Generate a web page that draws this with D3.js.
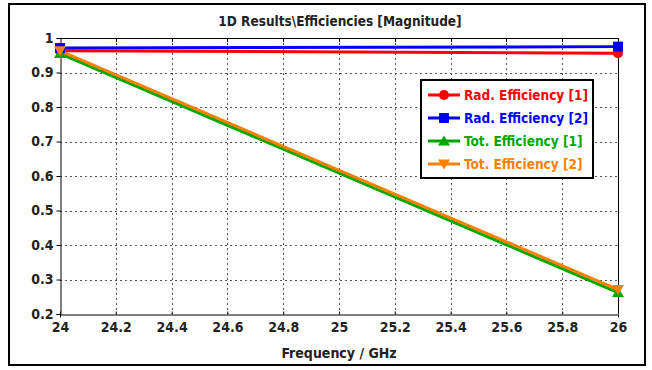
<!DOCTYPE html>
<html>
<head>
<meta charset="utf-8">
<script src="https://cdn.jsdelivr.net/npm/d3@7"></script>
<style>
  html, body { margin: 0; padding: 0; background: #fff; }
  svg { display: block; }
  text { font-family: "DejaVu Sans Condensed", "DejaVu Sans", sans-serif; font-weight: bold; }
</style>
</head>
<body>
<svg id="chart" width="652" height="370"></svg>
<script>
// Frequency samples (GHz)
const freq = [24, 26];
// Efficiency magnitudes per port
const radEff1 = [0.963, 0.956];
const radEff2 = [0.971, 0.975];
const totEff1 = [0.955, 0.262];
const totEff2 = [0.963, 0.271];

const seriesNames = ["Rad. Efficiency [1]", "Rad. Efficiency [2]", "Tot. Efficiency [1]", "Tot. Efficiency [2]"];
const seriesColors = ["#ff0000", "#0000ff", "#00a800", "#ff8000"];
const seriesMarkers = ["circle", "square", "triUp", "triDown"];
const seriesValues = [radEff1, radEff2, totEff1, totEff2];

const xTicks = [24, 24.2, 24.4, 24.6, 24.8, 25, 25.2, 25.4, 25.6, 25.8, 26];
const yTicks = [0.2, 0.3, 0.4, 0.5, 0.6, 0.7, 0.8, 0.9, 1];

const svg = d3.select("#chart");
const plot = { left: 60, right: 618, top: 38, bottom: 314 };

// outer frame
svg.append("rect").attr("x", 9).attr("y", 4).attr("width", 636).attr("height", 361)
  .attr("fill", "#fff").attr("stroke", "#000").attr("stroke-width", 2);

const x = d3.scaleLinear().domain([24, 26]).range([plot.left, plot.right]);
const y = d3.scaleLinear().domain([0.2, 1]).range([plot.bottom, plot.top]);

// grid
const grid = svg.append("g");
grid.selectAll("line.v").data(xTicks.slice(1, -1)).join("line")
  .attr("x1", d => Math.round(x(d)) + 0.5).attr("x2", d => Math.round(x(d)) + 0.5)
  .attr("y1", plot.top).attr("y2", plot.bottom)
  .attr("stroke", "#555").attr("stroke-width", 1).attr("stroke-dasharray", "2,3");
grid.selectAll("line.h").data(yTicks.slice(1, -1)).join("line")
  .attr("y1", d => Math.round(y(d)) + 0.5).attr("y2", d => Math.round(y(d)) + 0.5)
  .attr("x1", plot.left).attr("x2", plot.right)
  .attr("stroke", "#555").attr("stroke-width", 1).attr("stroke-dasharray", "2,3");

// axes
const xAxis = svg.append("g").attr("transform", `translate(0,${plot.bottom + 0.5})`)
  .call(d3.axisBottom(x).tickValues(xTicks).tickSize(3).tickPadding(5).tickFormat(d3.format("~g")));
const yAxis = svg.append("g").attr("transform", `translate(${plot.left + 0.5},0)`)
  .call(d3.axisLeft(y).tickValues(yTicks).tickSize(4).tickPadding(3).tickFormat(d3.format("~g")));
[xAxis, yAxis].forEach(a => {
  a.select(".domain").attr("stroke", "#000");
  a.selectAll(".tick line").attr("stroke", "#000");
  a.selectAll("text").attr("fill", "#222").style("font-size", "14px")
    .style("font-family", "'DejaVu Sans Condensed', sans-serif").style("font-weight", "bold");
});
xAxis.selectAll(".tick line").attr("y2", -3);
// top and right frame of the plot area
svg.append("line").attr("x1", plot.left).attr("x2", plot.right + 0.5)
  .attr("y1", plot.top + 0.5).attr("y2", plot.top + 0.5).attr("stroke", "#000");
svg.append("line").attr("x1", plot.right + 0.5).attr("x2", plot.right + 0.5)
  .attr("y1", plot.top).attr("y2", plot.bottom).attr("stroke", "#000");
svg.append("g").selectAll("line").data(xTicks.slice(1, -1)).join("line")
  .attr("x1", d => Math.round(x(d)) + 0.5).attr("x2", d => Math.round(x(d)) + 0.5)
  .attr("y1", plot.top).attr("y2", plot.top + 4).attr("stroke", "#000");

// marker shapes
function markerPath(kind, s) {
  if (kind === "circle") return d3.symbol(d3.symbolCircle, s * s * 0.8)();
  if (kind === "square") return d3.symbol(d3.symbolSquare, s * s)();
  const h = s * 0.9;
  if (kind === "triUp") return `M0,${-h * 0.6}L${s * 0.6},${h * 0.5}L${-s * 0.6},${h * 0.5}Z`;
  return `M0,${h * 0.6}L${s * 0.6},${-h * 0.5}L${-s * 0.6},${-h * 0.5}Z`;
}

// curves
const line = d3.line().x((d, i) => x(freq[i])).y(d => y(d));
const curves = svg.append("g");
seriesValues.forEach((vals, k) => {
  curves.append("path").datum(vals).attr("d", line)
    .attr("fill", "none").attr("stroke", seriesColors[k]).attr("stroke-width", 3);
});
seriesValues.forEach((vals, k) => {
  curves.selectAll(null).data(vals).join("path")
    .attr("transform", (d, i) => `translate(${x(freq[i])},${y(d)})`)
    .attr("d", markerPath(seriesMarkers[k], 10))
    .attr("fill", seriesColors[k]);
});

// title
svg.append("text").attr("x", 340).attr("y", 26).attr("text-anchor", "middle")
  .style("font-size", "13.5px").attr("fill", "#222").text("1D Results\\Efficiencies [Magnitude]");
// x label
svg.append("text").attr("x", 339).attr("y", 358).attr("text-anchor", "middle")
  .style("font-size", "14px").attr("fill", "#222").text("Frequency / GHz");

// legend
const lg = svg.append("g").attr("transform", "translate(421,80)");
lg.append("rect").attr("x", 0).attr("y", 0).attr("width", 172).attr("height", 98)
  .attr("fill", "#fff").attr("stroke", "#000").attr("stroke-width", 2);
seriesNames.forEach((name, k) => {
  const yy = 15 + k * 23;
  lg.append("line").attr("x1", 7).attr("x2", 39).attr("y1", yy).attr("y2", yy)
    .attr("stroke", seriesColors[k]).attr("stroke-width", 3);
  lg.append("path").attr("transform", `translate(23,${yy})`)
    .attr("d", markerPath(seriesMarkers[k], 10)).attr("fill", seriesColors[k]);
  lg.append("text").attr("x", 43).attr("y", yy + 5).style("font-size", "13.5px")
    .attr("fill", seriesColors[k]).text(name);
});
</script>
</body>
</html>
